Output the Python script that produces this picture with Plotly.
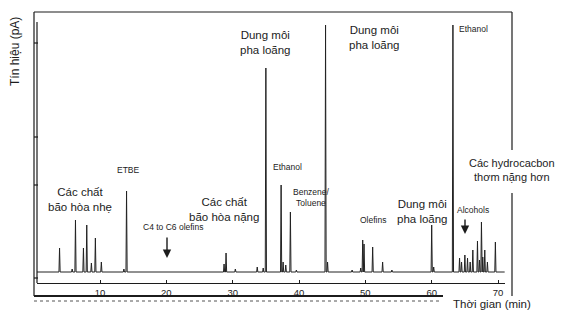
import plotly.graph_objects as go

# ---- data ----
peak_times = [3.9, 5.8, 6.3, 7.5, 8.0, 8.7, 9.3, 10.2, 13.6, 14.0,
              28.7, 29.0, 30.4, 33.7, 34.6, 35.0, 37.3, 37.6, 38.0, 38.7, 39.6,
              44.0, 44.3, 48.0, 49.3, 49.6, 49.8, 51.1, 52.6, 54.0,
              60.0, 60.3, 63.2, 64.2, 64.5, 65.0, 65.4, 65.8, 66.2, 66.9, 67.2,
              67.5, 67.7, 68.0, 68.4, 69.6]
peak_heights = [24, 3, 52, 24, 47, 9, 34, 10, 3, 81,
                8, 19, 3, 5, 4, 204, 87, 10, 7, 60, 2,
                247, 10, 2, 4, 32, 28, 25, 10, 2,
                47, 5, 247, 14, 10, 17, 14, 10, 22, 31, 12,
                50, 15, 22, 10, 30]
x_ticks = [10, 20, 30, 40, 50, 60, 70]
y_title = "Tín hiệu (pA)"
x_title = "Thời gian (min)"

# build chromatogram line from the peak list (narrow triangular peaks)
half_w = 0.09
xs, ys = [0.5], [0]
for t, h in sorted(zip(peak_times, peak_heights)):
    xs += [t - half_w, t, t + half_w]
    ys += [0, h, 0]
xs.append(71.0)
ys.append(0)

fig = go.Figure(go.Scatter(x=xs, y=ys, mode="lines",
                           line=dict(color="#222222", width=1.0),
                           hoverinfo="skip", showlegend=False))

# plot area in pixels
L, R, T, B = 37, 505, 22, 283
W, H = 576, 316

def px(x):
    return (x - L) / (R - L)

def py(y):
    return (B - y) / (B - T)

INK = "#1c1c1c"
FONT = "Liberation Sans, Arial, sans-serif"

shapes = []

def seg(x0, y0, x1, y1, width=1.2, dash="solid", color=INK):
    shapes.append(dict(type="line", xref="paper", yref="paper", layer="above",
                       x0=px(x0), y0=py(y0), x1=px(x1), y1=py(y1),
                       line=dict(color=color, width=width, dash=dash)))

# outer frame
seg(34, 12, 512, 12)
seg(34, 12, 34, 296)
seg(512, 12, 512, 150)
seg(512, 193, 512, 296)
# inner axes
seg(37, 22, 37, 283)
for ty in [43, 137, 185, 278]:
    seg(34, ty, 38, ty)
# bottom rules
seg(34, 296, 443, 296, width=1.8)
seg(34, 301, 440, 301, width=1, dash="dot", color="#555")

ann = []

def txt(x, y, s, size=11.5, anchor="center"):
    ann.append(dict(xref="paper", yref="paper", x=px(x), y=py(y), text=s,
                    showarrow=False, xanchor=anchor, yanchor="middle",
                    font=dict(family=FONT, size=size, color=INK)))

def arrow(x, y_top, y_tip):
    ann.append(dict(xref="paper", yref="paper", x=px(x), y=py(y_tip), text="",
                    showarrow=True, ax=0, ay=-(y_tip - y_top), arrowhead=2,
                    arrowsize=1.2, arrowwidth=1.4, arrowcolor=INK))

txt(80, 199, "Các chất<br>bão hòa nhẹ", 11.5)
txt(128, 170, "ETBE", 8.5)
txt(173, 227, "C4 to C6 olefins", 8.5)
arrow(167, 236, 258)
txt(224, 209, "Các chất<br>bão hòa nặng", 11.5)
txt(265, 42, "Dung môi<br>pha loãng", 11.5)
txt(287, 167, "Ethanol", 8.5)
txt(311, 197, "Benzene/<br>Toluene", 8.5)
txt(374, 37, "Dung môi<br>pha loãng", 11.5)
txt(373, 220, "Olefins", 8.5)
txt(422, 211, "Dung môi<br>pha loãng", 11.5)
txt(473, 29, "Ethanol", 8.5)
txt(512, 170, "Các hydrocacbon<br>thơm nặng hơn", 11)
txt(473, 210, "Alcohols", 8.5)
arrow(465, 218, 234)
txt(492, 304, x_title, 11.5)
ann.append(dict(xref="paper", yref="paper", x=px(15), y=py(52), text=y_title,
                showarrow=False, textangle=-90, xanchor="center", yanchor="middle",
                font=dict(family=FONT, size=12, color=INK)))

fig.update_layout(
    width=W, height=H,
    margin=dict(l=L, r=W - R, t=T, b=H - B, pad=0),
    paper_bgcolor="white", plot_bgcolor="white",
    shapes=shapes, annotations=ann,
    xaxis=dict(range=[0.5, 71.05], tickvals=x_ticks, showgrid=False, zeroline=False,
               showline=True, linecolor=INK, linewidth=1.2, ticks="inside",
               ticklen=3, tickcolor=INK, ticklabelstandoff=0,
               tickfont=dict(family=FONT, size=9.5, color=INK)),
    yaxis=dict(range=[-11, 250], showgrid=False, zeroline=False, showline=False,
               showticklabels=False, ticks=""),
)

fig.write_html("out.html")
